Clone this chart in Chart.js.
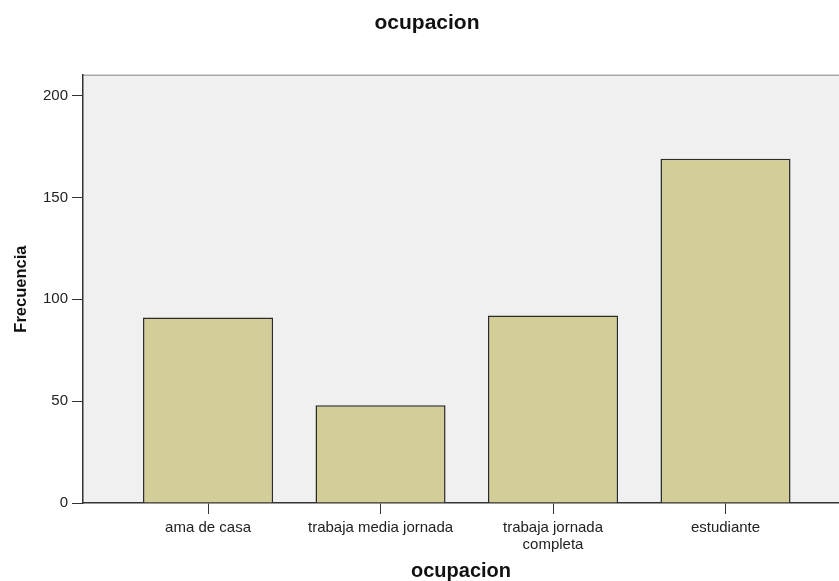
<!DOCTYPE html>
<html>
<head>
<meta charset="utf-8">
<script src="https://cdn.jsdelivr.net/npm/chart.js@4.4.0/dist/chart.umd.min.js"></script>
<style>
    html, body { margin: 0; padding: 0; background: #ffffff; }
    #wrap { width: 839px; height: 581px; }
</style>
</head>
<body>
<div id="wrap"><canvas id="ocupacion"></canvas></div>
<script>
// data
const categories = ['ama de casa', 'trabaja media jornada', ['trabaja jornada', 'completa'], 'estudiante'];
const frecuencia = [91, 48, 92, 169];
const yTicks = [0, 50, 100, 150, 200];

// grey plot background + light top border, like the SPSS output
const plotBackground = {
    id: 'plotBackground',
    beforeDraw(chart) {
        const { ctx, chartArea: a } = chart;
        ctx.save();
        ctx.fillStyle = '#f0f0f0';
        ctx.fillRect(a.left, a.top, a.right - a.left, a.bottom - a.top);
        ctx.strokeStyle = '#a8a8a8';
        ctx.lineWidth = 1.5;
        ctx.beginPath();
        ctx.moveTo(a.left, a.top);
        ctx.lineTo(a.right, a.top);
        ctx.stroke();
        ctx.restore();
    }
};

Chart.defaults.font.family = '"Liberation Sans", Arial, sans-serif';
Chart.defaults.color = '#222222';

const ctx = document.getElementById('ocupacion').getContext('2d');
const chart = new Chart(ctx, {
    type: 'bar',
    data: {
        datasets: [{
            label: 'Frecuencia',
            data: frecuencia.map((v, i) => ({ x: i, y: v })),
            backgroundColor: '#d3ce97',
            borderColor: '#2a2a2a',
            borderWidth: 1.5,
            barPercentage: 0.754,
            categoryPercentage: 1
        }]
    },
    options: {
        responsive: true,
        maintainAspectRatio: false,
        animation: false,
        // left padding pushes the title centre a bit right, as in the original
        layout: { padding: { left: 15, right: 0, top: 0, bottom: 0 } },
        plugins: {
            legend: { display: false },
            tooltip: { enabled: false },
            title: {
                display: true,
                text: 'ocupacion',
                color: '#111111',
                font: { size: 21, weight: 'bold' },
                padding: { top: 11, bottom: 39 }
            }
        },
        scales: {
            x: {
                type: 'linear',
                offset: false,
                min: -0.725,
                max: 3.658,
                afterBuildTicks: (scale) => {
                    scale.ticks = categories.map((c, i) => ({ value: i }));
                },
                afterFit: (scale) => { scale.height = 78; },
                ticks: {
                    autoSkip: false,
                    maxRotation: 0,
                    padding: 5,
                    color: '#222222',
                    font: { size: 15, lineHeight: 1.13 },
                    callback: (v) => categories[v]
                },
                grid: {
                    offset: false,
                    drawOnChartArea: false,
                    drawTicks: true,
                    tickLength: 11,
                    color: '#333333'
                },
                border: { display: true, color: '#333333', width: 1.5 },
                title: {
                    display: true,
                    text: 'ocupacion',
                    color: '#111111',
                    font: { size: 20, weight: 'bold' },
                    padding: { top: 0, bottom: -2 }
                }
            },
            y: {
                min: 0,
                max: 210,
                afterBuildTicks: (scale) => {
                    scale.ticks = yTicks.map(v => ({ value: v }));
                },
                afterFit: (scale) => { scale.width = 68; },
                ticks: {
                    padding: 4,
                    color: '#222222',
                    font: { size: 15 }
                },
                grid: {
                    drawOnChartArea: false,
                    drawTicks: true,
                    tickLength: 11,
                    color: '#333333'
                },
                border: { display: true, color: '#333333', width: 1.5 },
                title: {
                    display: true,
                    text: 'Frecuencia',
                    color: '#111111',
                    font: { size: 16.5, weight: 'bold' },
                    padding: { top: -3, bottom: 0 }
                }
            }
        }
    },
    plugins: [plotBackground]
});
</script>
</body>
</html>
